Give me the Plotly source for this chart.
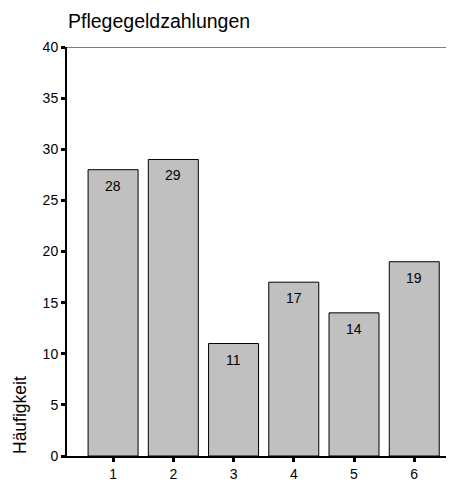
import plotly.graph_objects as go

categories = [1, 2, 3, 4, 5, 6]
counts = [28, 29, 11, 17, 14, 19]
y_ticks = [0, 5, 10, 15, 20, 25, 30, 35, 40]
title_text = "Pflegegeldzahlungen"
y_title = "Häufigkeit"

FONT = "Liberation Sans, Arial, sans-serif"

# page body has an 8px default margin; compensate so the figure fills the 454x482 window
W, H = 446, 474
L, T, B, R = 59, 39, 22, 0

fig = go.Figure()
fig.add_trace(go.Bar(
    x=categories, y=counts, width=0.83,
    marker=dict(color="#c0c0c0", line=dict(color="black", width=1)),
    hoverinfo="skip",
))

for c, v in zip(categories, counts):
    fig.add_annotation(x=c, y=v, text=str(v), showarrow=False, yshift=-16,
                       font=dict(family=FONT, size=14, color="black"))

fig.add_shape(type="line", xref="paper", yref="y", x0=0, x1=1, y0=40, y1=40,
              line=dict(color="#555555", width=1.5), layer="below")

pw = W - L - R
fig.add_annotation(xref="paper", yref="paper", x=(12 - L) / pw, y=0, xanchor="center", yanchor="bottom",
                   text=y_title, textangle=-90, showarrow=False,
                   font=dict(family=FONT, size=17.5, color="black"))

fig.update_layout(
    width=W, height=H,
    margin=dict(l=L, r=R, t=T, b=B),
    plot_bgcolor="white", paper_bgcolor="white",
    showlegend=False,
    title=dict(text=title_text, x=60 / W, xanchor="left", xref="container",
               y=1 - 13 / H, yanchor="middle", yref="container",
               font=dict(family=FONT, size=19.5, color="black")),
    xaxis=dict(range=[0.235, 6.66], tickvals=categories, ticktext=[str(c) for c in categories],
               showgrid=False, zeroline=False, showline=True, linecolor="black", linewidth=1.5,
               ticks="outside", ticklen=4, tickwidth=3, tickcolor="black",
               tickfont=dict(family=FONT, size=14, color="black")),
    yaxis=dict(range=[0, 40], tickvals=y_ticks, showgrid=False, zeroline=False,
               showline=True, linecolor="black", linewidth=2,
               ticks="outside", ticklen=4, tickwidth=3, tickcolor="black",
               tickfont=dict(family=FONT, size=14, color="black")),
)

fig.write_html("out.html")
